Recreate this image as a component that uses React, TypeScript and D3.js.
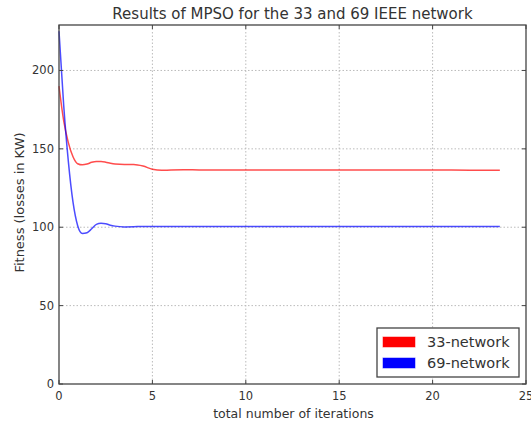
import React from "react";
import * as d3 from "d3";

const iterations = [0, 0.25, 0.5, 0.75, 1, 1.25, 1.5, 1.75, 2, 2.25, 2.5, 2.75, 3, 3.5, 4, 4.5, 5, 5.5, 6, 7, 8, 10, 12, 14, 16, 18, 20, 22, 23.6];
const net33 = [190, 168, 154, 145, 140.5, 139.8, 140.3, 141.4, 141.9, 141.9, 141.5, 140.8, 140.3, 140, 140, 139, 137, 136.3, 136.5, 136.6, 136.5, 136.5, 136.5, 136.5, 136.5, 136.5, 136.5, 136.4, 136.4];
const net69 = [225, 178, 142, 116, 101, 96, 96.5, 99, 101.8, 102.5, 102.2, 101.3, 100.7, 100.2, 100.3, 100.5, 100.5, 100.5, 100.5, 100.5, 100.5, 100.5, 100.5, 100.5, 100.5, 100.5, 100.5, 100.5, 100.5];
const xTicks = [0, 5, 10, 15, 20, 25];
const yTicks = [0, 50, 100, 150, 200];
const seriesNames = ["33-network", "69-network"];
const seriesColors = ["#ff0000", "#0000ff"];

export default function App() {
  const W = 531, H = 425;
  const L = 59, R = 526, T = 25, B = 384;
  const x = d3.scaleLinear().domain([0, 25]).range([L, R]);
  const y = d3.scaleLinear().domain([0, 229]).range([B, T]);
  const line = d3.line<number>().x((_, i) => x(iterations[i])).y((d) => y(d)).curve(d3.curveMonotoneX);
  const font = "DejaVu Sans, sans-serif";
  const series = [net33, net69];
  return (
    <svg width={W} height={H} style={{ position: "absolute", left: 0, top: 0, background: "#fff" }} fontFamily={font}>
      <rect x={0} y={0} width={W} height={H} fill="#fff" />
      {xTicks.slice(1, -1).map((t) => (
        <line key={"gx" + t} x1={x(t)} x2={x(t)} y1={T} y2={B} stroke="#bbb" strokeDasharray="1.5,2" strokeWidth={1} />
      ))}
      {yTicks.slice(1).map((t) => (
        <line key={"gy" + t} x1={L} x2={R} y1={y(t)} y2={y(t)} stroke="#bbb" strokeDasharray="1.5,2" strokeWidth={1} />
      ))}
      {series.map((s, i) => (
        <path key={i} d={line(s) || ""} fill="none" stroke={seriesColors[i]} strokeOpacity={0.7} strokeWidth={1.5} />
      ))}
      <rect x={L} y={T} width={R - L} height={B - T} fill="none" stroke="#444" strokeWidth={1.3} />
      {xTicks.map((t) => (
        <g key={"tx" + t}>
          <line x1={x(t)} x2={x(t)} y1={B} y2={B - 4} stroke="#444" />
          <line x1={x(t)} x2={x(t)} y1={T} y2={T + 4} stroke="#444" />
          <text x={x(t)} y={B + 16} fontSize={11.5} textAnchor="middle" fill="#333">{t}</text>
        </g>
      ))}
      {yTicks.map((t) => (
        <g key={"ty" + t}>
          <line x1={L} x2={L + 4} y1={y(t)} y2={y(t)} stroke="#444" />
          <line x1={R} x2={R - 4} y1={y(t)} y2={y(t)} stroke="#444" />
          <text x={L - 5} y={y(t) + 4} fontSize={11.5} textAnchor="end" fill="#333">{t}</text>
        </g>
      ))}
      <text x={(L + R) / 2} y={19} fontSize={15} textAnchor="middle" fill="#333">Results of MPSO for the 33 and 69 IEEE network</text>
      <text x={(L + R) / 2 + 1} y={418} fontSize={12.5} textAnchor="middle" fill="#333">total number of iterations</text>
      <text transform={`translate(24,${(T + B) / 2 - 2}) rotate(-90)`} fontSize={13} textAnchor="middle" fill="#333">Fitness (losses in KW)</text>
      <rect x={377} y={328} width={142} height={49} fill="#fff" stroke="#444" strokeWidth={1.3} />
      {seriesNames.map((n, i) => (
        <g key={n}>
          <rect x={383} y={337 + i * 21} width={32} height={10} fill={seriesColors[i]} stroke={seriesColors[i]} strokeOpacity={0.5} />
          <text x={427} y={347 + i * 21} fontSize={14.5} fill="#333">{n}</text>
        </g>
      ))}
    </svg>
  );
}
